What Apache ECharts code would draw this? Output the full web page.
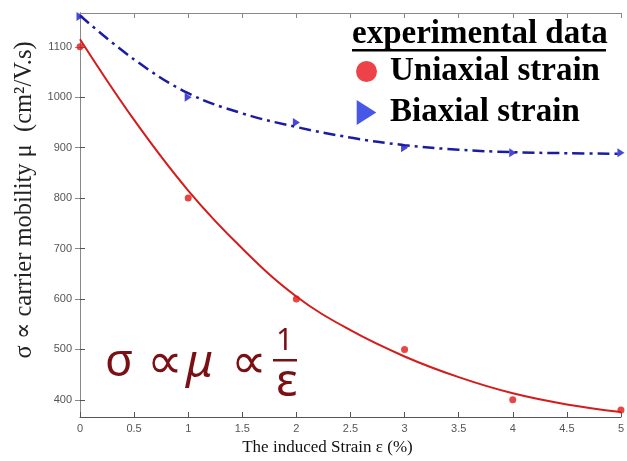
<!DOCTYPE html>
<html>
<head>
<meta charset="utf-8">
<script src="https://cdn.jsdelivr.net/npm/echarts@6/dist/echarts.min.js"></script>
<style>
html, body { margin: 0; padding: 0; background: #fff; }
#chart { width: 627px; height: 461px; }
</style>
</head>
<body>
<div id="chart"></div>
<script>
// measured points
var strain = [0, 1, 2, 3, 4, 5];
var uniaxial = [1100, 800, 600, 500, 400, 380];
var biaxial = [1160, 1000, 950, 900, 890, 890];

// fitted curves
var fitStrain = [0, 0.5, 1, 1.5, 2, 2.5, 3, 3.5, 4, 4.5, 5];
var uniaxialFit = [1115, 955, 815, 700, 605, 538, 486, 445, 413, 391, 376];
var biaxialFit = [1162, 1075, 1008, 968, 941, 920, 905, 896, 891, 889, 888];

var yTicks = [400, 500, 600, 700, 800, 900, 1000, 1100];

function pairs(xs, ys) {
    var res = [];
    for (var i = 0; i < xs.length; i++) {
        res.push([xs[i], ys[i]]);
    }
    return res;
}

var myChart = echarts.init(document.getElementById('chart'));
var serif = '"Liberation Serif", "DejaVu Serif", serif';
var formulaColor = '#7a0f14';
var formulaFont = '"Noto Sans", "DejaVu Sans", sans-serif';

var option = {
    backgroundColor: '#fff',
    animation: false,
    grid: { left: 80, right: 4, top: 13, bottom: 43 },
    legend: {
        orient: 'vertical',
        left: 356,
        top: 55,
        itemGap: 8,
        itemWidth: 21,
        itemHeight: 25,
        backgroundColor: '#fff',
        padding: 0,
        textStyle: { fontFamily: serif, fontWeight: 'bold', fontSize: 33, color: '#000', padding: [0, 0, 0, 8] },
        data: [
            { name: 'Uniaxial strain', icon: 'circle', itemStyle: { color: '#e8141a' } },
            { name: 'Biaxial strain', icon: 'path://M0,0L11,7L0,14Z', itemStyle: { color: '#1a2ee0' } }
        ]
    },
    xAxis: [{
        type: 'value',
        min: 0,
        max: 5,
        interval: 0.5,
        name: 'The induced Strain ε (%)',
        nameLocation: 'middle',
        nameGap: 22,
        nameTextStyle: { fontFamily: serif, fontSize: 17, color: '#111', padding: [0, 46, 0, 0] },
        axisLine: { lineStyle: { color: '#555' } },
        axisTick: { inside: true, length: 5, lineStyle: { color: '#555' } },
        axisLabel: { fontFamily: '"Liberation Sans", Arial, sans-serif', fontSize: 11, color: '#555', margin: 6 },
        splitLine: { show: false }
    }, {
        type: 'value',
        position: 'top',
        min: 0,
        max: 5,
        interval: 0.5,
        axisLine: { show: true, lineStyle: { color: '#888' } },
        axisTick: { inside: true, length: 5, lineStyle: { color: '#888' } },
        axisLabel: { show: false },
        splitLine: { show: false }
    }],
    yAxis: [{
        type: 'value',
        min: 366,
        max: 1167,
        name: 'σ ∝ carrier mobility μ  (cm²/V.s)',
        nameLocation: 'middle',
        nameGap: 42,
        nameTextStyle: { fontFamily: serif, fontSize: 24.5, color: '#222', padding: [0, 0, 0, 30] },
        axisLine: { show: true, lineStyle: { color: '#555' } },
        axisTick: { inside: true, length: 5, customValues: yTicks, lineStyle: { color: '#555' } },
        axisLabel: {
            customValues: yTicks,
            formatter: function (v) { return String(v); },
            fontFamily: '"Liberation Sans", Arial, sans-serif', fontSize: 11, color: '#555', margin: 8
        },
        splitLine: { show: false }
    }, {
        type: 'value',
        position: 'right',
        min: 366,
        max: 1167,
        axisLine: { show: true, lineStyle: { color: '#888' } },
        axisTick: { inside: true, length: 5, customValues: yTicks, lineStyle: { color: '#888' } },
        axisLabel: { show: false },
        splitLine: { show: false }
    }],
    graphic: [
        {
            type: 'rect',
            left: 345, top: 17,
            shape: { width: 270, height: 112 },
            style: { fill: '#fff' },
            z: 0
        },
        {
            type: 'text',
            left: 352, top: 18,
            style: { text: 'experimental data', font: 'bold 33px ' + serif, fill: '#000' },
            z: 10
        },
        {
            type: 'rect',
            left: 352, top: 49,
            shape: { width: 254, height: 2.5 },
            style: { fill: '#000' },
            z: 10
        },
        // formula: σ ∝ μ ∝ 1/ε  (y is the top of the text box)
        { type: 'text', x: 105, y: 340, style: { text: 'σ', font: '46px ' + formulaFont, fill: formulaColor }, z: 10 },
        { type: 'text', x: 147, y: 339, style: { text: '∝', font: '50px ' + formulaFont, fill: formulaColor }, z: 10 },
        { type: 'text', x: 186, y: 341, style: { text: 'μ', font: 'italic 46px ' + formulaFont, fill: formulaColor }, z: 10 },
        { type: 'text', x: 231, y: 339, style: { text: '∝', font: '50px ' + formulaFont, fill: formulaColor }, z: 10 },
        { type: 'text', x: 276, y: 326, style: { text: '1', font: '30px ' + formulaFont, fill: formulaColor }, z: 10 },
        { type: 'rect', left: 273, top: 359, shape: { width: 24, height: 2.5 }, style: { fill: formulaColor }, z: 10 },
        { type: 'text', x: 276, y: 360, style: { text: 'ε', font: '46px ' + formulaFont, fill: formulaColor }, z: 10 }
    ],
    series: [
        {
            name: 'Uniaxial fit',
            type: 'line',
            smooth: 0.4,
            showSymbol: false,
            lineStyle: { color: '#d41c1c', width: 2 },
            data: pairs(fitStrain, uniaxialFit),
            z: 2
        },
        {
            name: 'Biaxial fit',
            type: 'line',
            smooth: 0.4,
            showSymbol: false,
            lineStyle: { color: '#1c1ca0', width: 2.5, type: [12, 5, 3, 5] },
            data: pairs(fitStrain, biaxialFit),
            z: 2
        },
        {
            name: 'Uniaxial strain',
            type: 'scatter',
            symbol: 'circle',
            symbolSize: 7,
            itemStyle: { color: '#e01818' },
            data: pairs(strain, uniaxial),
            z: 3
        },
        {
            name: 'Biaxial strain',
            type: 'scatter',
            symbol: 'path://M0,0L11,7L0,14Z',
            symbolSize: [7, 9],
            itemStyle: { color: '#1a1acc' },
            data: pairs(strain, biaxial),
            z: 3
        }
    ]
};

myChart.setOption(option);
</script>
</body>
</html>
